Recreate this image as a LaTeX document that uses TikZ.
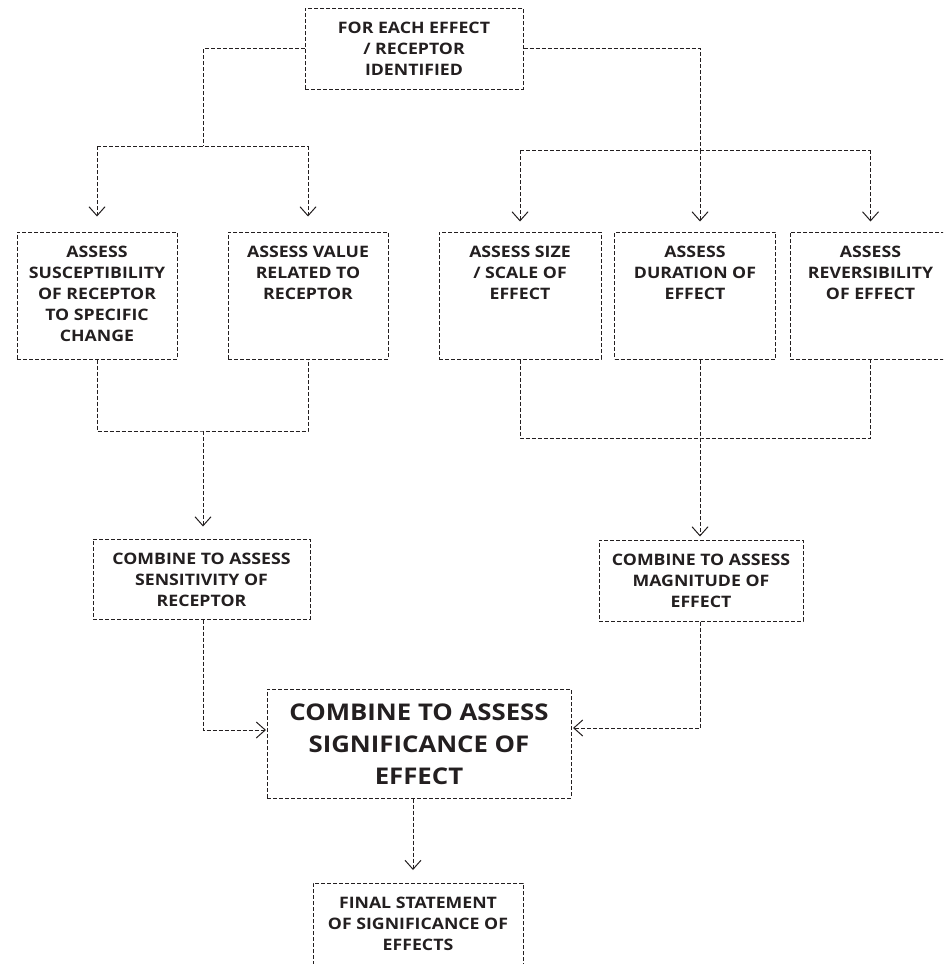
\documentclass[tikz,border=0pt]{standalone}
\usepackage{fontspec}
\setmainfont{Open Sans}[FakeStretch=1.12]
\usetikzlibrary{arrows.meta}
\definecolor{ink}{HTML}{231F20}
\tikzset{
  box/.style={draw=ink, line width=1pt, dash pattern=on 4pt off 2pt, inner sep=0pt, text=ink,
    font=\bfseries\fontsize{15.8}{21}\selectfont},
  bigbox/.style={box, font=\bfseries\fontsize{23}{32}\selectfont},
  conn/.style={draw=ink, line width=1pt, dash pattern=on 4pt off 2pt},
  arr/.style={conn, -{Straight Barb[length=9pt,width=16pt,line width=1pt]}},
}
\newcommand\bx[4]{\parbox[c][#2][t]{#1}{\centering\rule{0pt}{#3}#4\par}}
\begin{document}
\begin{tikzpicture}[x=1pt,y=-1pt]
\useasboundingbox (0,0) rectangle (943,964);
\clip (0,0) rectangle (943,964);
% boxes
\node[box] (top) at (414,48.5) {\bx{218pt}{81pt}{25pt}{FOR EACH EFFECT\\/ RECEPTOR\\IDENTIFIED}};
\node[box] (b1) at (97,295.5) {\bx{160pt}{127pt}{25pt}{ASSESS\\SUSCEPTIBILITY\\OF RECEPTOR\\TO SPECIFIC\\CHANGE}};
\node[box] (b2) at (308,295.5) {\bx{160pt}{127pt}{25pt}{ASSESS VALUE\\RELATED TO\\RECEPTOR}};
\node[box] (b3) at (520,295.5) {\bx{162pt}{127pt}{25pt}{ASSESS SIZE\\/ SCALE OF\\EFFECT}};
\node[box] (b4) at (695,295.5) {\bx{161pt}{127pt}{25pt}{ASSESS\\DURATION OF\\EFFECT}};
\node[box] (b5) at (870.5,295.5) {\bx{161pt}{127pt}{25pt}{ASSESS\\REVERSIBILITY\\OF EFFECT}};
\node[box] (c1) at (201.5,579) {\bx{217pt}{80pt}{25pt}{COMBINE TO ASSESS\\SENSITIVITY OF\\RECEPTOR}};
\node[box] (c2) at (701,580.5) {\bx{204pt}{81pt}{25pt}{COMBINE TO ASSESS\\MAGNITUDE OF\\EFFECT}};
\node[bigbox] (big) at (419,743.5) {\bx{304pt}{109pt}{31pt}{COMBINE TO ASSESS\\SIGNIFICANCE OF\\EFFECT}};
\node[box] (fin) at (418,943) {\bx{210pt}{120pt}{25pt}{FINAL STATEMENT\\OF SIGNIFICANCE OF\\EFFECTS}};
% top left branch
\coordinate (jL) at (203,146);
\draw[conn] (top.west) -| (jL);
\draw[conn] (b1.north |- jL) -- (b2.north |- jL);
\draw[arr] (b1.north |- jL) -- ([yshift=15pt]b1.north);
\draw[arr] (b2.north |- jL) -- ([yshift=15pt]b2.north);
% top right branch
\coordinate (jR) at (700,150);
\draw[conn] (top.east) -| (jR);
\draw[conn] (b3.north |- jR) -- (b5.north |- jR);
\draw[arr] (b3.north |- jR) -- ([yshift=10pt]b3.north);
\draw[arr] (jR) -- ([yshift=10pt]b4.north -| jR);
\draw[arr] (b5.north |- jR) -- ([yshift=10pt]b5.north);
% bottom left join
\coordinate (kL) at (203,431);
\draw[conn] (b1.south) |- (kL) -| (b2.south);
\draw[arr] (kL) -- ([yshift=12pt]c1.north -| kL);
% bottom right join
\coordinate (kR) at (700,438);
\draw[conn] (b3.south) |- (kR) -| (b5.south);
\draw[conn] (b4.south -| kR) -- (kR);
\draw[arr] (kR) -- ([yshift=3pt]c2.north -| kR);
% into the big box
\coordinate (aL) at (266,730);
\coordinate (aR) at (573,728);
\draw[arr] (c1.south -| kL) |- (aL);
\draw[arr] (c2.south -| kR) |- (aR);
% to final
\coordinate (aB) at (413,870);
\draw[arr] (big.south -| aB) -- (aB);
\end{tikzpicture}
\end{document}
